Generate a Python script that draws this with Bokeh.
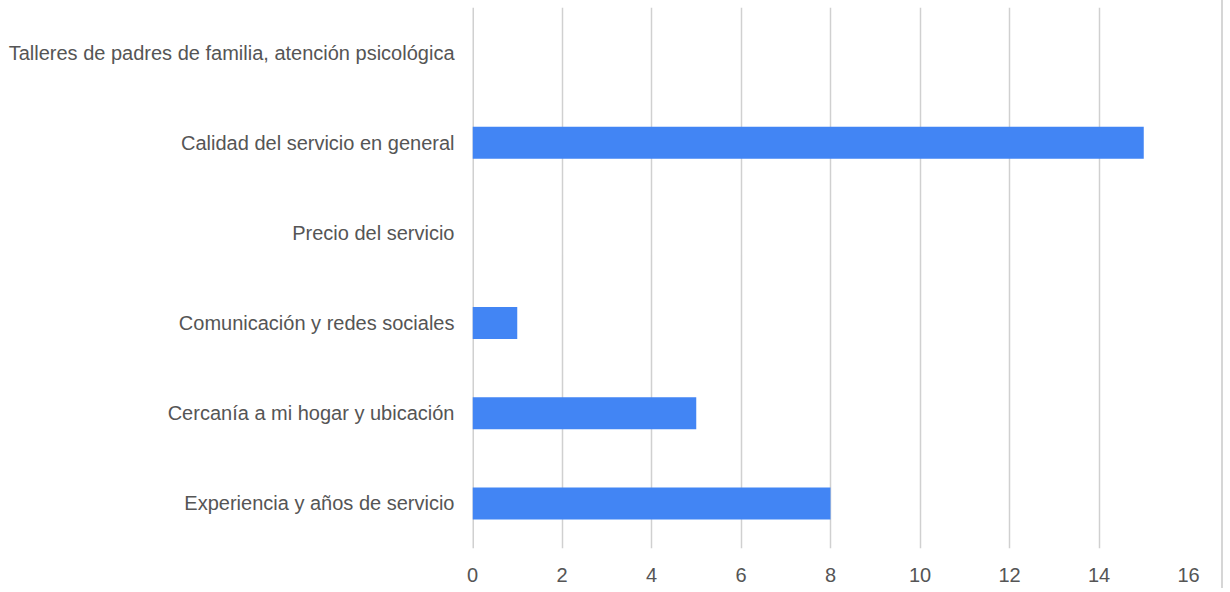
from bokeh.plotting import figure
from bokeh.embed import file_html
from bokeh.resources import INLINE
from bokeh.models import FixedTicker, Span

categories = [
    "Experiencia y años de servicio",
    "Cercanía a mi hogar y ubicación",
    "Comunicación y redes sociales",
    "Precio del servicio",
    "Calidad del servicio en general",
    "Talleres de padres de familia, atención psicológica",
]
values = [8, 5, 1, 0, 15, 0]
x_ticks = [0, 2, 4, 6, 8, 10, 12, 14, 16]

p = figure(
    y_range=categories,
    x_range=(0, 16),
    width=1223,
    height=588,
    output_backend="svg",
    toolbar_location=None,
    min_border_left=472,
    min_border_right=35,
    min_border_top=7,
    min_border_bottom=40,
)
p.styles = {"border-right": "2px solid #d6d6d6"}

p.hbar(y=categories, right=values, left=0, height=0.355, color="#4285F4", line_color=None)

p.outline_line_color = None
p.ygrid.grid_line_color = None
p.xgrid.grid_line_color = "#d0d0d0"
p.xgrid.grid_line_width = 1.5
p.xaxis.ticker = FixedTicker(ticks=x_ticks)
p.add_layout(Span(location=0, dimension="height", line_color="#d0d0d0", line_width=3, level="underlay"))

for ax in (p.xaxis, p.yaxis):
    ax.axis_line_color = None
    ax.major_tick_line_color = None
    ax.minor_tick_line_color = None
    ax.major_label_text_font = "Liberation Sans"
    ax.major_label_text_font_size = "20px"
    ax.major_label_text_color = "#555555"

p.xaxis.major_label_standoff = 13
p.yaxis.major_label_standoff = 12

open("out.html", "w").write(file_html(p, INLINE))
